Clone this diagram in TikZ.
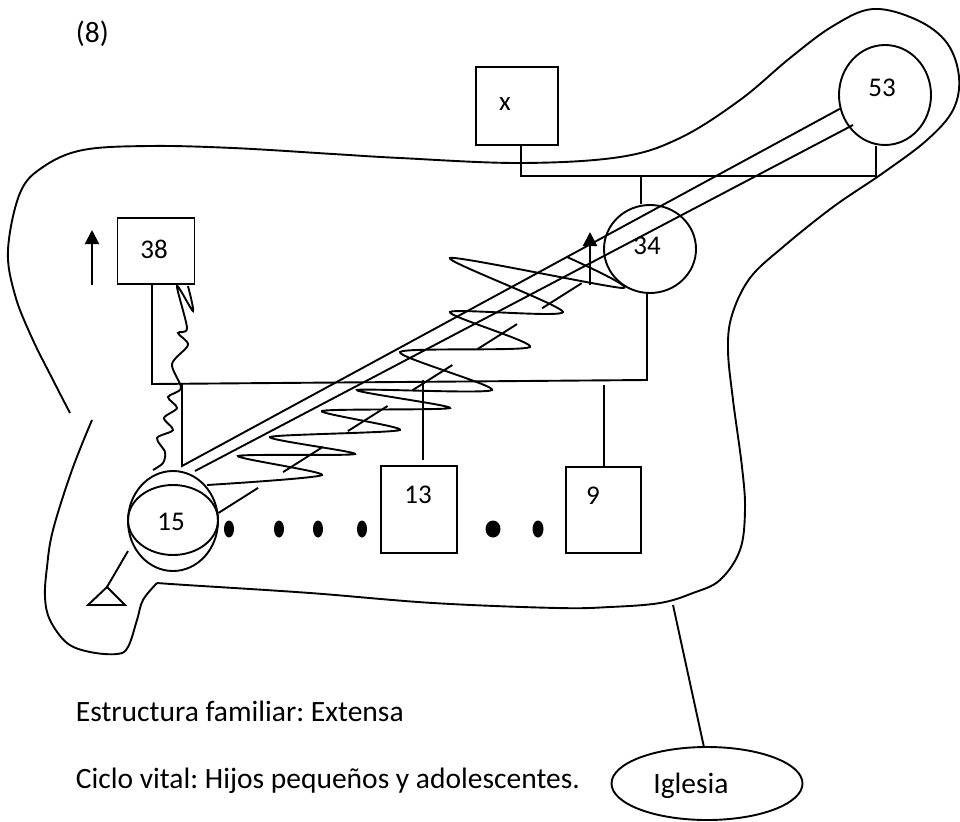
\documentclass[tikz,border=0pt]{standalone}
\usepackage{fontspec}
\setmainfont{Carlito}
\usetikzlibrary{arrows.meta,shapes.geometric}
\frenchspacing

\begin{document}
\begin{tikzpicture}[
x=1pt,y=-1pt,line width=1.9pt,
male/.style={draw,rectangle,inner sep=0pt},
female/.style={draw,ellipse,inner sep=0pt},
num/.style={inner sep=0pt,font=\fontsize{27}{32}\selectfont},
txt/.style={inner sep=0pt,anchor=base west,font=\fontsize{29.5}{35}\selectfont},
dot/.style={fill,ellipse,inner sep=0pt,minimum height=17pt},
arr/.style={-{Triangle[length=14pt,width=14pt]},line width=2.2pt}]
\useasboundingbox (0,0) rectangle (960,821);
\node[txt] (t8) at (75,43) {(8)};
\node[male,minimum width=82pt,minimum height=78pt] (bx) at (517,106) {};
\node[female,minimum width=92pt,minimum height=100pt] (c53) at (885,95) {};
\node[female,minimum width=92pt,minimum height=88pt] (c34) at (650,249) {};
\node[male,minimum width=77pt,minimum height=66pt] (b38) at (156,251) {};
\node[female,minimum width=90pt,minimum height=100pt] (c15) at (173,521) {};
\node[female,minimum width=90pt,minimum height=70pt] (c15in) at (173,520) {};
\node[male,minimum width=76pt,minimum height=87pt] (b13) at (419,509.5) {};
\node[male,minimum width=75pt,minimum height=86pt] (b9) at (603.5,510) {};
\node[female,minimum width=191pt,minimum height=73pt] (iglesia) at (707,783.5) {};
\node[num] (tx) at (505,104) {x};
\node[num] (t53) at (882,88) {53};
\node[num] (t34) at (647,246) {34};
\node[num] (t38) at (154,249) {38};
\node[num] (t15) at (171,522) {15};
\node[num] (t13) at (418,495) {13};
\node[num] (t9) at (593,496) {9};
\node[txt,anchor=base] (tig) at (691,793) {Iglesia};
\node[txt] (estr) at (75,721) {Estructura familiar: Extensa};
\node[txt] (ciclo) at (75,788) {Ciclo vital: Hijos pequeños y adolescentes.};
\foreach \x/\w in {229/10pt,279/10pt,318/10pt,362/10pt,493/15pt,538/11pt}
  \node[dot,minimum width=\w] (d\x) at (\x,529) {};
\coordinate (mX) at (521,176);
\coordinate (m53) at (876,176);
\draw (bx.south -| mX) -- (mX) -- (m53) -- (m53 |- c53.south);
\coordinate (k34) at (641,176);
\draw (k34) -- (k34 |- c34.north);
\coordinate (mL) at (152,384);
\coordinate (mR) at (647,380);
\draw (mL |- b38.south) -- (mL) -- (mR) -- (mR |- c34.south);
\coordinate (k15) at (182,383.5);
\coordinate (j15) at (182,466);
\draw (k15) -- (j15) -- (c53.197);
\coordinate (d15) at (195,471);
\coordinate (d53) at (853,125);
\draw (d15) -- (d53);
\coordinate (k13) at (423,380);
\draw[shorten >=5pt] (k13) -- (k13 |- b13.north);
\coordinate (k9) at (604,385);
\draw (k9) -- (k9 |- b9.north);
\coordinate (dEnd) at (582,283);
\draw[dash pattern=on 47pt off 29.6pt] (c15.10) -- (dEnd);
\draw plot[smooth,tension=.4] coordinates {(207,485) (322,475) (238,456) (355,454) (270,437) (400,430) (322,411) (450,408) (357,390) (492,390) (400,352) (530,347) (450,312) (563,312) (450,258) (623,288) (567,257)};
\draw plot[smooth,tension=.5] coordinates {(188,286) (193,311) (177,286) (187,328) (178,333) (188,345) (172,364) (181,388) (168,397) (177,408) (164,418) (173,430) (157,438) (165,452) (163,463) (153,470)};
\coordinate (a38) at (92,285);
\draw[arr] (a38) -- ++(0,-55);
\coordinate (a34) at (590,285);
\draw[arr] (a34) -- ++(0,-53);
\coordinate (tri) at (107,587);
\coordinate (t15) at (128,551);
\draw (tri) -- ++(-19,18) -- ++(37,0) -- cycle;
\draw (tri) -- (t15);
\draw plot[smooth,tension=.6] coordinates {(70,413) (53,380) (32,338) (15,295) (8,250) (20,193) (43,167) (83,150) (150,146) (233,148) (333,154) (400,158) (520,163) (620,157) (680,138) (740,100) (790,58) (833,26) (873,9) (917,20) (947,43) (959,77) (953,110) (927,140) (883,173) (833,207) (783,247) (750,278) (732,315) (728,350) (733,400) (742,467) (745,510) (740,550) (720,580) (693,593) (660,603) (610,607) (557,608) (433,603) (310,593) (186,585) (157,583)};
\draw plot[smooth,tension=.6] coordinates {(157,583) (143,600) (137,620) (128,647) (117,654) (90,652) (67,643) (50,620) (45,597) (47,567) (53,530) (72,470) (92,420)};
\coordinate (eI) at (673,605);
\draw (eI) -- (iglesia.95);
\end{tikzpicture}
\end{document}
